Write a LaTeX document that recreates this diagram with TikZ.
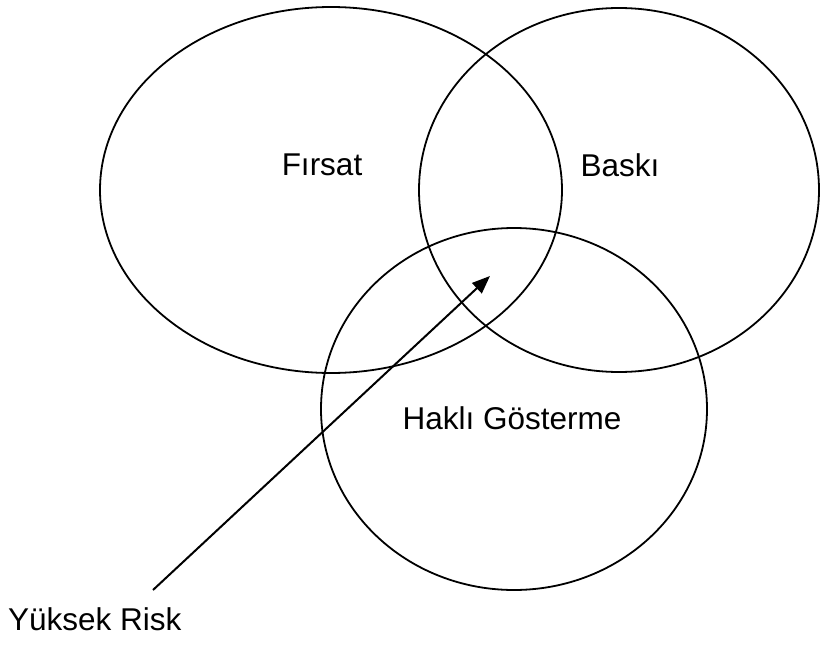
\documentclass[tikz,border=0pt]{standalone}
\usepackage{fontspec}
\setmainfont{Liberation Sans}
\usetikzlibrary{arrows.meta}
\begin{document}
\begin{tikzpicture}[x=1pt,y=-1pt,
  set/.style={draw=black,line width=1.8pt},
  lbl/.style={font=\fontsize{31.5}{36}\selectfont,inner sep=0pt},
  riskarrow/.style={line width=2pt,-{Triangle[length=18pt,width=14pt]}}]
\useasboundingbox (0,0) rectangle (820,645);
% the three overlapping sets
\draw[set] (331,190) ellipse [x radius=231,y radius=183];
\draw[set] (619,190) ellipse [x radius=200,y radius=182];
\draw[set] (514,409) ellipse [x radius=193,y radius=181];
% set labels
\node[lbl] (firsat) at (322,165) {Fırsat};
\node[lbl] (baski) at (620,165) {Baskı};
\node[lbl] (hakli) at (512,418) {Haklı Gösterme};
\node[lbl,anchor=base west] (risk) at (8,630) {Yüksek Risk};
% arrow into the common region
\coordinate (tail) at (153,590);
\coordinate (core) at (490,276);
\draw[riskarrow] (tail) -- (core);
\end{tikzpicture}
\end{document}
